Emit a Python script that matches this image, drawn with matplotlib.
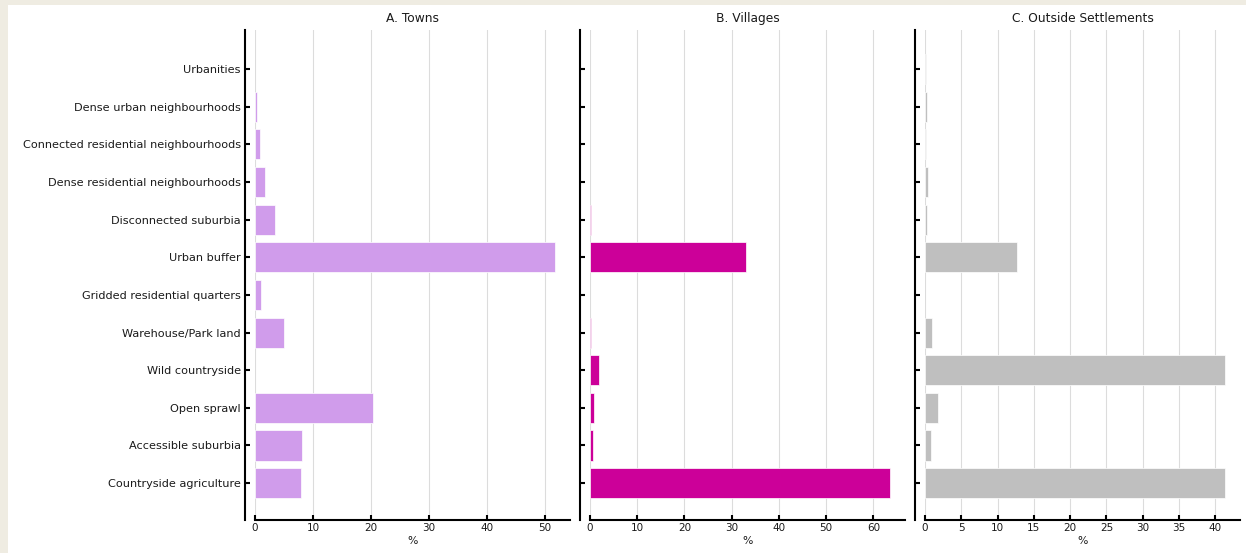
import matplotlib.pyplot as plt
from matplotlib.patches import Rectangle

# categorias de tipo de suelo (de arriba hacia abajo)
categorias = [
    "Urbanities",
    "Dense urban neighbourhoods",
    "Connected residential neighbourhoods",
    "Dense residential neighbourhoods",
    "Disconnected suburbia",
    "Urban buffer",
    "Gridded residential quarters",
    "Warehouse/Park land",
    "Wild countryside",
    "Open sprawl",
    "Accessible suburbia",
    "Countryside agriculture",
]

# porcentajes por tipo de asentamiento
towns = [0.0, 0.3, 0.8, 1.7, 3.4, 51.7, 1.0, 5.0, 0.0, 20.3, 8.1, 8.0]
villages = [0.0, 0.0, 0.0, 0.0, 0.3, 33.0, 0.0, 0.3, 1.8, 0.9, 0.6, 63.5]
outside = [0.2, 0.3, 0.2, 0.4, 0.3, 12.7, 0.0, 1.0, 41.4, 1.8, 0.8, 41.4]

titulos = ["A. Towns", "B. Villages", "C. Outside Settlements"]
colores = ["#d09ceb", "#cc0099", "#bfbfbf"]
xmax = [54.3, 66.7, 43.4]
xticks = [range(0, 51, 10), range(0, 61, 10), range(0, 41, 5)]

W, H = 1246, 553
fig = plt.figure(figsize=(W / 100, H / 100), dpi=100)
fig.patch.set_facecolor("#efece2")
# fondo blanco dentro del marco
fig.patches.append(Rectangle((8 / W, 0), 1, 1 - 5 / H, transform=fig.transFigure,
                             facecolor="white", edgecolor="none", zorder=-10))

izquierdas = [255, 590, 925]
for k, datos in enumerate([towns, villages, outside]):
    ax = fig.add_axes([izquierdas[k] / W, 1 - 520 / H, 315 / W, 490 / H])
    ax.set_facecolor("none")
    y = list(range(len(categorias)))
    # sin borde en las barras nulas para no tapar la grilla en x=0
    bordes = ["white" if v > 0 else "none" for v in datos]
    ax.barh(y, datos, height=0.8, color=colores[k], edgecolor=bordes,
            linewidth=0.5, zorder=2)
    ax.set_ylim(11.98, -1.04)
    ax.set_xlim(0, xmax[k])
    ax.set_xticks(list(xticks[k]))
    ax.set_yticks(y)
    if k == 0:
        ax.set_yticklabels(categorias)
    else:
        ax.set_yticklabels([])
    ax.grid(axis="x", color="#dcdcdc", linewidth=0.8, zorder=0)
    ax.set_axisbelow(True)
    for lado in ["top", "right"]:
        ax.spines[lado].set_visible(False)
    ax.spines["left"].set_position(("outward", 7.2))
    ax.spines["left"].set_linewidth(1.5)
    ax.spines["bottom"].set_linewidth(1.5)
    ax.tick_params(axis="y", direction="in", length=3.5, width=1.5, pad=3,
                   labelsize=8.1, labelcolor="#1a1a1a")
    ax.tick_params(axis="x", direction="in", length=3.5, width=1.5, pad=2,
                   labelsize=7.5, labelcolor="#1a1a1a")
    ax.set_xlabel("%", fontsize=7.8, labelpad=2, color="#1a1a1a")
    ax.set_title(titulos[k], fontsize=8.8, pad=6, color="#1a1a1a")

plt.savefig("out.png", dpi=100, facecolor=fig.get_facecolor())
